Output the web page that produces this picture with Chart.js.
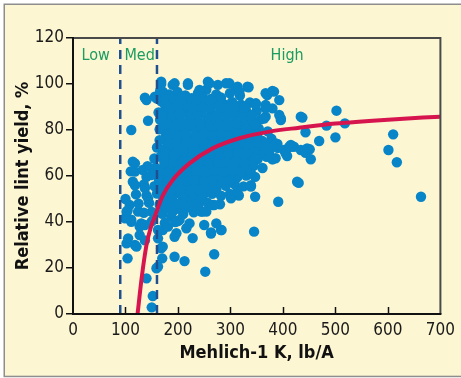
<!DOCTYPE html>
<html><head><meta charset="utf-8">
<script src="https://cdn.jsdelivr.net/npm/chart.js@4.4.0/dist/chart.umd.min.js"></script>
<style>html,body{margin:0;padding:0;background:#fff;overflow:hidden}canvas{display:block}</style>
</head><body>
<canvas id="c" width="461" height="378"></canvas>
<script>
// ---- Data (Mehlich-1 K lb/A, relative lint yield %) ----
const xTickVals = [0,100,200,300,400,500,600,700];
const yTickVals = [0,20,40,60,80,100,120];
const zoneBoundK = [90,160];
const zoneLabels = ['Low','Med','High'];
const zoneLabelK = [43,127,408];
const zoneLabelYield = 112.4;

const curveK     = [123,131,140,148,156,171,190,222,266,317,374,431,500,600,700];
const curveYield = [0,16,30,37.5,42.5,51.5,58.3,65.5,72,76.4,79.3,81,82.8,84.5,85.8];

const topEdgePts = [[168,101],[190,99.6],[219,99.6],[257,101],[276,99.6],[178,82.9],[203,87.3],[241,97.4],[235,93],[260,93],[171,96.7],[168,100],[193.5,100.3],[219,100.3],[200,91],[260,100.3],[291.5,100.3],[313.5,98.8],[332.5,98.8],[367,96],[383,96.7],[367,90.9],[348.5,91.6],[323,90.1],[393,86.5],[396,84.3],[367,85.8],[434,85.8],[329.5,80.7],[298,77.1],[298,100.3],[310.5,98],[334.5,98.6],[317,96.7],[393,93],[370,95.2],[380,97],[348,90.9],[367,89.4],[380,89.4],[326,90.1],[364,85],[396,85]];

const leftPts = [[111,80],[143,84],[137,94],[156,94.5],[140,93],[159,93.8],[118,65.5],[133,62.6],[114,57.5],[152,61.2],[114,66.2],[118,61.9],[108,47.4],[99,41.6],[111,40.1],[130,39.4],[124,44.5],[137,54.7],[143,50.3],[149,60.4],[137,38.7],[105,32.9],[127,34.3],[102,44.5],[111,41],[102,30.7],[104,24.2],[118,30],[127,38],[121,29.3],[137,32],[100,50],[104,45],[110,62],[118,56],[120,52],[125,48],[135,44]];

const lowerPts = [[140,15.5],[152,7.8],[150,2.9],[159,19.9],[170,24.2],[168,28.6],[171,36.5],[162,36.5],[162,32.9],[171,29.3],[162,20.6],[181,38],[203,40.9],[187,42.3],[197,35.1],[193.5,24.9],[193.5,33.6],[212.5,23],[252,18.4],[228,33],[269,26],[263,35],[282,36.5],[247,44.5],[266,47.4],[195,40],[216,37.3],[203,48],[222,39.4],[244,44.5],[250,38.7],[231,47.4],[345,35.8],[283,36.5],[273,39.4],[254,44.5],[269,47.4],[263,35.5]];

const rightPts = [[437,85.4],[502,88.4],[483,81.9],[518,82.9],[443,79],[469,75.2],[500,76.8],[451,71.6],[443,70.1],[453,67.3],[421,72.7],[430,57],[427,57.5],[610,78.1],[601,71.3],[617,66],[663,51],[389.5,73.9],[415,72.7],[446,72],[374,70.6],[380,67.3],[339,61.2],[339,56],[391,48.8],[347,51],[339,55.4],[301,50.3],[313,53.2],[380,67.4],[408,68.7],[348,67.7],[402,71.3],[415,73.5],[386,74.2],[434,71.3],[412,72.7],[405,69.9]];

const coreUpperPts = [[166,97],[183,95.5],[199,96.5],[214,95],[238,96],[254,97.5],[273,95.5],[299,96],[318,95],
 [168,92.5],[184,91],[201,92.8],[218,91.2],[235,92.4],[252,91],[269,92.6],[286,91.4],[303,92.2],[320,91],[337,92],
 [163,87.6],[179,88.8],[196,87.2],[213,88.4],[230,87.5],[247,88.9],[264,87.3],[281,88.2],[298,87.4],[315,88.6],[332,87.5],[350,88.3],
 [166,84.4],[180,83.6],[189,84.8],[206,83.5],[223,84.6],[240,83.4],[257,84.5],[274,83.7],[291,84.9],[308,83.3],[325,84.2],[342,83.6],[358,84.6]];

const coreMiddlePts = [[165,80.3],[175,79.5],[184,80.6],[201,79.4],[218,80.7],[235,79.6],[252,80.4],[269,79.3],[286,80.5],[303,79.7],[320,80.2],[337,79.5],[354,80.6],[371,79.4],
 [165,75.6],[176,76.5],[189,75.4],[206,76.7],[223,75.5],[240,76.3],[257,75.7],[274,76.6],[291,75.3],[308,76.4],[325,75.6],[342,76.5],[360,75.4],[378,76.2],
 [160,72.4],[172,71.6],[186,72.5],[203,71.4],[220,72.6],[237,71.7],[254,72.3],[271,71.5],[288,72.7],[305,71.3],[322,72.4],[339,71.6],[356,72.5],[373,71.4],[390,72.2],
 [155,67.6],[167,68.5],[182,67.4],[199,68.6],[216,67.5],[233,68.4],[250,67.3],[267,68.7],[284,67.5],[301,68.3],[318,67.6],[335,68.5],[352,67.4],[369,68.3],[386,67.7],
 [142,64.3],[157,63.6],[174,64.5],[191,63.4],[208,64.6],[225,63.5],[242,64.4],[259,63.7],[276,64.5],[293,63.3],[310,64.2],[327,63.6],[344,64.4],[361,63.5]];

const coreLowerPts = [[140,59.6],[160,60.4],[177,59.5],[194,60.6],[211,59.4],[228,60.5],[245,59.7],[262,60.3],[279,59.5],[296,60.6],[313,59.4],[330,60.2],[347,59.6],
 [135,56.3],[155,55.6],[172,56.5],[189,55.4],[206,56.4],[223,55.5],[240,56.6],[257,55.3],[274,56.2],[291,55.7],[308,56.4],[325,55.5],
 [140,51.6],[160,52.4],[180,51.5],[197,52.6],[214,51.3],[231,52.5],[248,51.7],[265,52.3],[282,51.4],[299,52.2],[316,51.5],
 [145,48.3],[165,47.6],[185,48.5],[205,47.4],[222,48.2],[239,47.5],[256,48.4],[280,47.7],
 [150,44.4],[170,43.6],[190,44.5],[210,43.5],[230,44.2],
 [150,40.3],[175,39.6],[200,40.4]];

const coreFillPts = [[175,94.2],[192,93.6],[209,94.5],[226,93.8],[246,94.4],[263,93.5],[282,94.1],
 [176,90.3],[193,89.6],[210,90.5],[227,89.4],[244,90.2],[261,89.7],[278,90.4],[295,89.5],[312,90.1],[329,89.7],
 [171,86.2],[188,85.7],[205,86.5],[222,85.6],[239,86.3],[256,85.5],[273,86.4],[290,85.8],[307,86.1],[324,85.6],[341,86.3],
 [175,82.1],[193,81.6],[210,82.4],[227,81.7],[244,82.3],[261,81.5],[278,82.2],[295,81.8],[312,82.5],[330,81.6],[347,82.2],
 [181,78.2],[198,77.6],[215,78.4],[232,77.7],[249,78.3],[266,77.5],[283,78.1],[300,77.8],[317,78.4],[334,77.6],[351,78.1],
 [181,74.1],[198,73.6],[215,74.4],[232,73.5],[249,74.2],[266,73.7],[283,74.3],[300,73.6],[317,74.1],[334,73.8],[351,74.3],[368,73.6],
 [177,70.2],[194,69.6],[211,70.4],[228,69.7],[245,70.3],[262,69.5],[279,70.1],[296,69.8],[313,70.4],[330,69.6],[347,70.2],[364,69.7],
 [174,66.1],[191,65.6],[208,66.3],[225,65.7],[242,66.4],[259,65.5],[276,66.2],[293,65.8],[310,66.3],[327,65.6],[344,66.1],
 [167,62.2],[184,61.7],[201,62.4],[218,61.6],[235,62.3],[252,61.8],[269,62.1],[286,61.6],[303,62.3],[320,61.7],
 [164,58.1],[181,57.7],[198,58.3],[215,57.6],[232,58.2],[249,57.8],[266,58.4],[283,57.6],[300,58.1],
 [168,54.2],[188,53.7],[205,54.3],[222,53.6],[239,54.1],[256,53.8],[273,54.2],
 [172,50.1],[190,49.7],[210,50.3],[228,49.6],[245,50.2],
 [178,46.1],[197,45.7],[215,46.2]];

// ---- Styles ----
const CREAM = '#fcf6d3';
const DOT = '#0885c8';
const RED = '#d6154e';
const DASH = '#1f4f8e';
const GREEN = '#1b9c60';
const FAMILY = '"Liberation Sans Narrow", "DejaVu Sans Condensed", "Arial Narrow", sans-serif';

const allPts = [].concat(coreLowerPts, coreMiddlePts, coreUpperPts, coreFillPts, leftPts, lowerPts, rightPts, topEdgePts)
  .map(p => ({x:p[0], y:p[1]}));

const decor = {
  id:'decor',
  beforeDraw(chart){
    const ctx = chart.ctx;
    ctx.save();
    ctx.fillStyle = '#ffffff';
    ctx.fillRect(0,0,chart.width,chart.height);
    ctx.fillStyle = CREAM;
    ctx.fillRect(4,4,chart.width+10,372.5);
    ctx.strokeStyle = '#8e8e8e';
    ctx.lineWidth = 1.5;
    ctx.strokeRect(4.25,4.25,chart.width+10,372.2);
    ctx.restore();
  },
  afterDatasetsDraw(chart){
    const ctx = chart.ctx;
    const a = chart.chartArea;
    const xs = chart.scales.x, ys = chart.scales.y;
    ctx.save();
    ctx.fillStyle = GREEN;
    ctx.font = '16px ' + FAMILY;
    ctx.textAlign = 'center';
    ctx.textBaseline = 'middle';
    zoneLabels.forEach((t,i)=>{
      ctx.fillText(t, xs.getPixelForValue(zoneLabelK[i]), ys.getPixelForValue(zoneLabelYield));
    });
    ctx.strokeStyle = '#4a4a4a';
    ctx.lineWidth = 2;
    ctx.beginPath();
    ctx.moveTo(a.left, a.top); ctx.lineTo(a.right, a.top); ctx.lineTo(a.right, a.bottom);
    ctx.stroke();
    ctx.strokeStyle = '#111';
    ctx.beginPath();
    ctx.moveTo(a.left, a.top-1); ctx.lineTo(a.left, a.bottom); ctx.lineTo(a.right+1, a.bottom);
    ctx.stroke();
    ctx.lineWidth = 1.5;
    xTickVals.slice(1, -1).forEach(v=>{
      const px = Math.round(xs.getPixelForValue(v)) + 0.5;
      ctx.beginPath(); ctx.moveTo(px, a.bottom); ctx.lineTo(px, a.bottom-7); ctx.stroke();
    });
    ctx.restore();
  }
};

new Chart(document.getElementById('c'), {
  type:'scatter',
  data:{
    datasets:[
      {data: allPts, backgroundColor: DOT, borderWidth:0, pointRadius:5.2, pointHoverRadius:5.2, order:3},
      {data: [{x:zoneBoundK[0],y:0},{x:zoneBoundK[0],y:120}], showLine:true, pointRadius:0, borderColor:DASH, borderWidth:2.5, borderDash:[9,6], order:2},
      {data: [{x:zoneBoundK[1],y:0},{x:zoneBoundK[1],y:120}], showLine:true, pointRadius:0, borderColor:DASH, borderWidth:2.5, borderDash:[9,6], order:2},
      {data: curveK.map((k,i)=>({x:k, y:curveYield[i]})), showLine:true, pointRadius:0, borderColor:RED, borderWidth:4, cubicInterpolationMode:'monotone', order:1}
    ]
  },
  options:{
    responsive:false,
    animation:false,
    devicePixelRatio:1,
    layout:{padding:{left:0,right:19,top:38,bottom:0}},
    plugins:{legend:{display:false}, tooltip:{enabled:false}},
    scales:{
      x:{
        type:'linear', min:0, max:700,
        afterBuildTicks(s){ s.ticks = xTickVals.map(v=>({value:v})); },
        afterFit(s){ s.height = 64; },
        grid:{display:false, drawTicks:false, tickLength:0},
        border:{display:false},
        ticks:{padding:6, color:'#1a1a1a', font:{family:FAMILY, size:17}, maxRotation:0, autoSkip:false},
        title:{display:true, text:'Mehlich-1 K, lb/A', color:'#111', font:{family:FAMILY, size:18, weight:'bold'}, padding:{top:0,bottom:14}}
      },
      y:{
        type:'linear', min:0, max:120,
        afterBuildTicks(s){ s.ticks = yTickVals.map(v=>({value:v})); },
        afterFit(s){ s.width = 73; },
        grid:{drawOnChartArea:false, drawTicks:true, tickLength:7, color:'#111', lineWidth:1.5},
        border:{display:false},
        ticks:{padding:2, color:'#1a1a1a', font:{family:FAMILY, size:17}, autoSkip:false},
        title:{display:true, text:'Relative lint yield, %', color:'#111', font:{family:FAMILY, size:18, weight:'bold'}, padding:{top:13,bottom:0}}
      }
    }
  },
  plugins:[decor]
});
</script></body></html>
